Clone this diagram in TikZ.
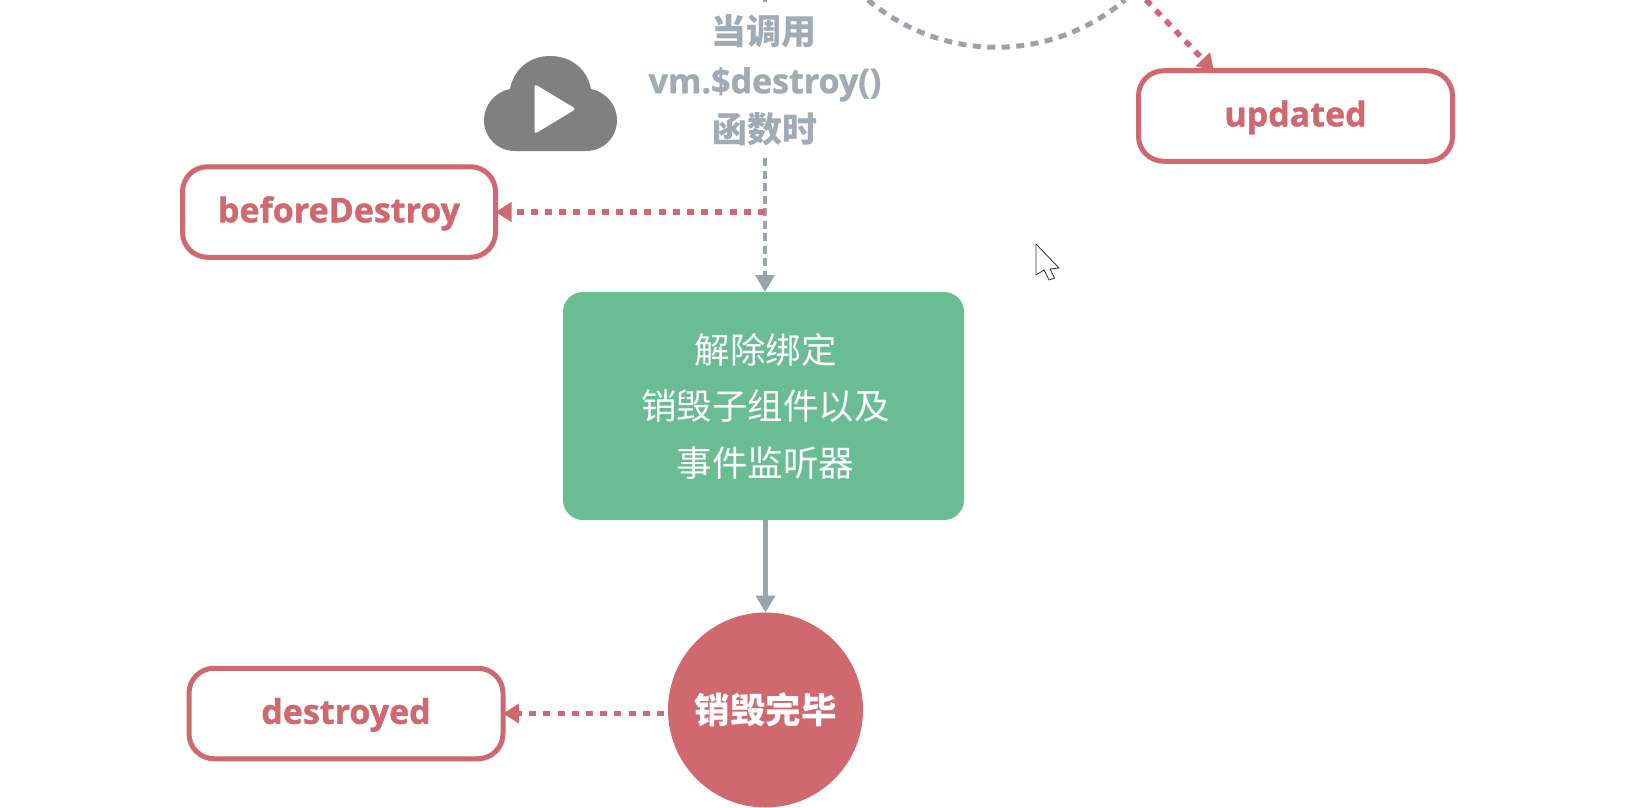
\documentclass[tikz,border=0pt]{standalone}
\usepackage{fontspec}
\setmainfont{Open Sans}[BoldFeatures={FakeBold=1.2}]
\newfontfamily\cjk{Noto Sans CJK SC}
\usetikzlibrary{arrows.meta}
\definecolor{hookred}{HTML}{D0696F}
\definecolor{flowgreen}{HTML}{6ABD93}
\definecolor{flowgrey}{HTML}{98A5AF}
\definecolor{labelgrey}{HTML}{A0ABB5}
\definecolor{arcgrey}{HTML}{9BA3A8}
\definecolor{cloudgrey}{HTML}{808080}
\tikzset{
  x=1pt,y=-1pt,
  hookbox/.style={draw=hookred,line width=5pt,fill=white,rounded corners=25pt,minimum width=#1,minimum height=90.5pt,inner sep=0pt,outer sep=0pt,text=hookred,text height=20.6pt,text depth=0pt,font=\fontsize{34}{36}\selectfont\bfseries},
  redflow/.style={draw=hookred,line width=5.5pt,dash pattern=on 7pt off 7.2pt,-{Triangle[length=16pt,width=19pt]}},
  greyflow/.style={draw=flowgrey,line width=3.2pt,dash pattern=on 8pt off 4.5pt,-{Triangle[length=17pt,width=19pt]}},
  solidflow/.style={draw=flowgrey,line width=5pt,-{Triangle[length=17pt,width=19pt]}},
  arcline/.style={draw=arcgrey,line width=5pt,dash pattern=on 8pt off 6.5pt},
  greenline/.style={},
}
\begin{document}
\begin{tikzpicture}
\useasboundingbox (0,0) rectangle (1644,808);
\fill[white] (0,0) rectangle (1644,808);
% nodes
\node[hookbox=313pt] (before) at (339,212) {beforeDestroy};
\node[hookbox=314pt] (destroyed) at (346,713.5) {destroyed};
\node[hookbox=314pt] (updated) at (1295.5,116) {updated};
\node[fill=flowgreen,rounded corners=20pt,minimum width=401pt,minimum height=228pt,inner sep=0pt,outer sep=0pt,text=white,align=center,font=\cjk\fontsize{35.5}{56.5}\selectfont] (unbind) at (763.5,406) {\hspace*{4pt}\raisebox{-2pt}{解除绑定}\\\hspace*{4pt}\raisebox{-2pt}{销毁子组件以及}\\\hspace*{4pt}\raisebox{-2pt}{事件监听器}};
\node[circle,fill=hookred,minimum size=195pt,inner sep=0pt,outer sep=0pt,text=white,font=\cjk\fontsize{35.5}{40}\selectfont\bfseries] (done) at (765.5,710) {销毁完毕};
\node[text=labelgrey,align=center,font=\fontsize{34}{49}\selectfont\bfseries] (call) at (765,80) {{\cjk\fontsize{35}{49}\selectfont\bfseries 当调用\hspace*{2pt}}\\vm.\$destroy()\\{\cjk\fontsize{35}{49}\selectfont\bfseries 函数时}};
% free ends
\coordinate (topstub) at (765,-8);
\coordinate (stubend) at (765,2);
\coordinate (calldown) at (765,158);
\coordinate (branch) at (765,212);
\coordinate (arcL) at (868,0);
\coordinate (arcR) at (1125,0);
\coordinate (updfrom) at (1146,0);
% connectors
\draw[draw=flowgrey,line width=3.2pt] (topstub) -- (stubend);
\draw[greyflow] (calldown) -- (unbind.north -| calldown);
\draw[redflow] (branch) -- (before.east);
\draw[solidflow] (unbind.south -| done.north) -- (done.north);
\draw[redflow,shorten <=4pt] (done.west |- destroyed.east) -- (destroyed.east);
\draw[redflow] (updfrom) -- (updated.151);
\draw[arcline] (arcL) .. controls (943,63) and (1050,63) .. (arcR);
% cloud
\fill[cloudgrey] (515,151) -- (586,151)
  .. controls (604,151) and (617,137) .. (617,120)
  .. controls (617,105) and (606,92) .. (591,89)
  .. controls (587,68) and (570,56) .. (550,56)
  .. controls (531,56) and (514,68) .. (510,89)
  .. controls (495,92) and (484,105) .. (484,120)
  .. controls (484,137) and (497,151) .. (515,151) -- cycle;
\fill[white,rounded corners=3pt] (534.5,84) -- (576,109) -- (534.5,134) -- cycle;
% pointer
\draw[fill=white,draw=black!75,line width=0.9pt,line join=round] (1036,244) -- (1036,275) -- (1044,270) -- (1049,280) -- (1054.5,278) -- (1050,269) -- (1059,268) -- cycle;
\end{tikzpicture}
\end{document}
